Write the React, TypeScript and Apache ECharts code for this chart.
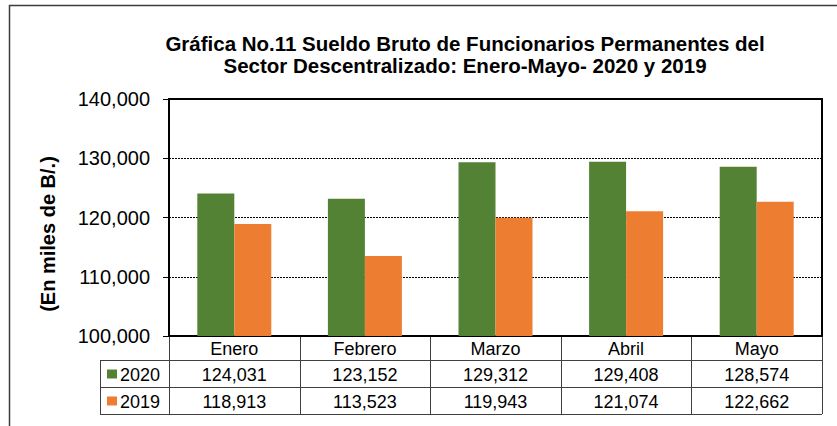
import React, { useEffect, useRef } from "react";
import * as echarts from "echarts";

const categories = ["Enero", "Febrero", "Marzo", "Abril", "Mayo"];
const seriesNames = ["2020", "2019"];
const values2020 = [124031, 123152, 129312, 129408, 128574];
const values2019 = [118913, 113523, 119943, 121074, 122662];
const colors = ["#548235", "#ED7D31"];
const titleText =
  "Gráfica No.11 Sueldo Bruto de Funcionarios Permanentes del\nSector Descentralizado: Enero-Mayo- 2020 y 2019";
const yName = "(En miles de B/.)";

const W = 837;
const H = 426;
const GRID_LEFT = 169;
const GRID_RIGHT = 822;
const GRID_TOP = 99;
const GRID_BOTTOM = 336;

const fmt = (v: number) => v.toLocaleString("en-US");

export default function App() {
  const ref = useRef<HTMLDivElement>(null);
  useEffect(() => {
    if (!ref.current) return;
    const chart = echarts.init(ref.current, undefined, { renderer: "svg" });
    const catW = (GRID_RIGHT - GRID_LEFT) / categories.length;
    const rowY = [336, 360, 387, 414];
    const lineStyle = { stroke: "#404040", lineWidth: 1 };
    const graphics: any[] = [];
    // outer frame (cut off at right and bottom)
    graphics.push({ type: "line", shape: { x1: 9, y1: 5.5, x2: W, y2: 5.5 }, style: { stroke: "#3c3c3c", lineWidth: 1.5 } });
    graphics.push({ type: "line", shape: { x1: 9.5, y1: 5, x2: 9.5, y2: H }, style: { stroke: "#3c3c3c", lineWidth: 1.5 } });
    // y axis name
    graphics.push({
      type: "text",
      x: 48,
      y: 234,
      rotation: Math.PI / 2,
      style: {
        text: yName,
        fontFamily: "Liberation Sans, Arial, sans-serif",
        fontSize: 20,
        fontWeight: "bold",
        fill: "#000",
        textAlign: "center",
        textVerticalAlign: "middle",
      },
    });
    // table horizontal lines
    for (let r = 1; r < rowY.length; r++) {
      graphics.push({ type: "line", shape: { x1: 100, y1: rowY[r] + 0.5, x2: GRID_RIGHT, y2: rowY[r] + 0.5 }, style: lineStyle });
    }
    // table vertical lines
    for (let i = 0; i <= categories.length; i++) {
      const x = Math.round(GRID_LEFT + i * catW) + 0.5;
      graphics.push({ type: "line", shape: { x1: x, y1: GRID_BOTTOM, x2: x, y2: rowY[3] }, style: lineStyle });
    }
    graphics.push({ type: "line", shape: { x1: 100.5, y1: rowY[1], x2: 100.5, y2: rowY[3] }, style: lineStyle });
    // header texts
    const textStyle = { fontFamily: "Liberation Sans, Arial, sans-serif", fontSize: 18, fill: "#000" };
    categories.forEach((c, i) => {
      graphics.push({
        type: "text",
        x: GRID_LEFT + (i + 0.5) * catW,
        y: (rowY[0] + rowY[1]) / 2 + 1,
        style: { ...textStyle, text: c, textAlign: "center", textVerticalAlign: "middle" },
      });
    });
    const rows = [values2020, values2019];
    rows.forEach((vals, r) => {
      const cy = (rowY[r + 1] + rowY[r + 2]) / 2 + 1;
      graphics.push({ type: "rect", shape: { x: 107, y: cy - 5, width: 10, height: 9 }, style: { fill: colors[r] } });
      graphics.push({
        type: "text",
        x: 120,
        y: cy,
        style: { ...textStyle, text: seriesNames[r], textAlign: "left", textVerticalAlign: "middle" },
      });
      vals.forEach((v, i) => {
        graphics.push({
          type: "text",
          x: GRID_LEFT + (i + 0.5) * catW,
          y: cy,
          style: { ...textStyle, text: fmt(v), textAlign: "center", textVerticalAlign: "middle" },
        });
      });
    });

    chart.setOption({
      animation: false,
      backgroundColor: "#fff",
      title: {
        text: titleText,
        left: 460,
        top: 27,
        textAlign: "center",
        textStyle: {
          fontFamily: "Liberation Sans, Arial, sans-serif",
          fontSize: 20.5,
          fontWeight: "bold",
          color: "#000",
          lineHeight: 22,
        },
      },
      grid: {
        left: GRID_LEFT,
        top: GRID_TOP,
        right: W - GRID_RIGHT,
        bottom: H - GRID_BOTTOM,
        show: true,
        borderColor: "#000",
        borderWidth: 2,
        containLabel: false,
      },
      xAxis: {
        type: "category",
        data: categories,
        axisLine: { show: true, lineStyle: { color: "#000", width: 2 } },
        axisTick: { show: false },
        axisLabel: { show: false },
      },
      yAxis: {
        type: "value",
        min: 100000,
        max: 140000,
        interval: 10000,
        axisLine: { show: true, lineStyle: { color: "#000", width: 2 } },
        axisTick: { show: true, length: 6, lineStyle: { color: "#000" } },
        axisLabel: {
          formatter: (v: number) => fmt(v),
          fontFamily: "Liberation Sans, Arial, sans-serif",
          fontSize: 20,
          color: "#000",
          margin: 19,
        },
        splitLine: { show: true, lineStyle: { color: "#000", type: [2, 1], width: 1 } },
      },
      series: [
        {
          name: seriesNames[0],
          type: "bar",
          data: values2020,
          barWidth: 37,
          barGap: "0%",
          itemStyle: { color: colors[0] },
        },
        {
          name: seriesNames[1],
          type: "bar",
          data: values2019,
          barWidth: 37,
          barGap: "0%",
          itemStyle: { color: colors[1] },
        },
      ],
      graphic: graphics,
    });
    return () => chart.dispose();
  }, []);
  return <div ref={ref} style={{ width: W, height: H, position: "absolute", left: 0, top: 0 }} />;
}
